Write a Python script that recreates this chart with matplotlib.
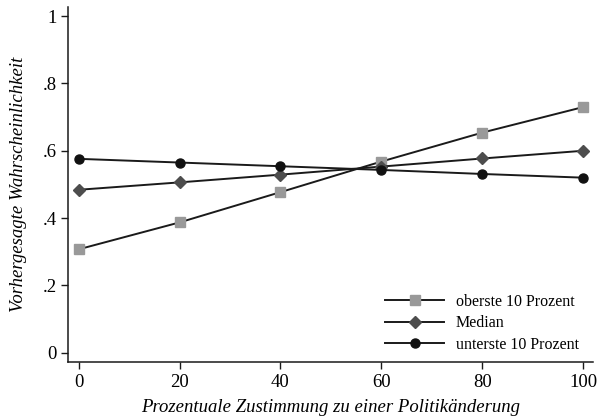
import matplotlib
matplotlib.use("Agg")
import matplotlib.pyplot as plt
from matplotlib.ticker import FixedLocator

# Data
zustimmung = [0, 20, 40, 60, 80, 100]
oberste = [0.307, 0.387, 0.477, 0.568, 0.654, 0.730]
median = [0.484, 0.506, 0.529, 0.553, 0.577, 0.600]
unterste = [0.576, 0.565, 0.554, 0.543, 0.531, 0.520]

y_ticks = [0, 0.2, 0.4, 0.6, 0.8, 1.0]
y_labels = ["0", ".2", ".4", ".6", ".8", "1"]
x_ticks = [0, 20, 40, 60, 80, 100]

plt.rcParams["font.family"] = ["Liberation Serif", "DejaVu Serif"]

fig = plt.figure(figsize=(6.05, 4.19), dpi=100)
ax = fig.add_axes([0.1124, 0.136, 0.8676, 0.847])

line_kw = dict(color="#1a1a1a", linewidth=1.4)
ax.plot(zustimmung, oberste, marker="s", markersize=6.5, markerfacecolor="#999999",
        markeredgecolor="#999999", label="oberste 10 Prozent", **line_kw)
ax.plot(zustimmung, median, marker="D", markersize=6.5, markerfacecolor="#4d4d4d",
        markeredgecolor="#4d4d4d", label="Median", **line_kw)
ax.plot(zustimmung, unterste, marker="o", markersize=6.5, markerfacecolor="#111111",
        markeredgecolor="#111111", label="unterste 10 Prozent", **line_kw)

ax.set_xlim(-2.1, 101.9)
ax.set_ylim(-0.028, 1.027)
ax.xaxis.set_major_locator(FixedLocator(x_ticks))
ax.set_yticks(y_ticks)
ax.set_yticklabels(y_labels)
ax.tick_params(direction="out", length=5, width=1, labelsize=13.5, color="#1a1a1a")
ax.tick_params(axis="y", pad=3)
for s in ("top", "right"):
    ax.spines[s].set_visible(False)
for s in ("left", "bottom"):
    ax.spines[s].set_linewidth(1.1)
    ax.spines[s].set_color("#1a1a1a")

ax.set_xlabel("Prozentuale Zustimmung zu einer Politikänderung", fontsize=13.5,
              style="italic", labelpad=6)
ax.set_ylabel("Vorhergesagte Wahrscheinlichkeit", fontsize=13.5,
              style="italic", labelpad=11)

ax.legend(loc="lower right", bbox_to_anchor=(1.0, -0.015), frameon=False,
          fontsize=11.5, handlelength=3.7, handletextpad=0.7, labelspacing=0.35)

fig.savefig("out.png", dpi=100)
